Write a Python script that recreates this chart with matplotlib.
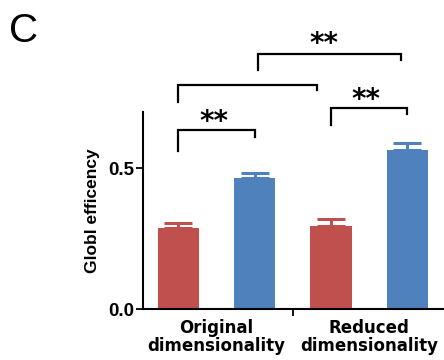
import matplotlib
matplotlib.use("Agg")
import matplotlib.pyplot as plt

plt.rcParams['font.family'] = ['Liberation Sans', 'DejaVu Sans']

groups = ["Original\ndimensionality", "Reduced\ndimensionality"]
conditions = ["red", "blue"]
values = [0.287, 0.465, 0.294, 0.564]
errors = [0.018, 0.017, 0.025, 0.025]
bar_colors = ["#C0504D", "#4F81BD", "#C0504D", "#4F81BD"]
yticks = [0.0, 0.5]
ytick_labels = ["0.0", "0.5"]
ylabel = "Globl efficency"
panel_label = "C"
# significance brackets: (x_left, x_right, y_top, y_left_leg, y_right_leg, label)
brackets = [
    (0.0, 1.0, 0.636, 0.561, 0.611, "**"),
    (0.0, 1.82, 0.796, 0.735, 0.778, ""),
    (2.0, 3.0, 0.714, 0.654, 0.693, "**"),
    (1.05, 2.92, 0.906, 0.849, 0.885, "**"),
]
star_pos = [(0.465, 0.663), None, (2.46, 0.741), (1.907, 0.942)]

fig = plt.figure(figsize=(4.44, 3.6), dpi=100)
ax = fig.add_axes([143/444, 1-309/360, 1-143/444, (309-112)/360])

x = list(range(len(values)))
ax.bar(x, values, width=0.54, color=bar_colors, zorder=2)
for xi, v, e, c in zip(x, values, errors, bar_colors):
    ax.errorbar(xi, v, yerr=[[0], [e]], color=c, capsize=10, capthick=2.2,
                elinewidth=2.2, fmt='none', zorder=1)

ax.set_xlim(-0.46, 3.48)
ax.set_ylim(0, 0.7)
ax.set_yticks(yticks)
ax.set_yticklabels(ytick_labels, fontsize=13.5, fontweight='bold')
ax.set_xticks([1.5])
ax.set_xticklabels([""])
ax.tick_params(axis='both', length=5, width=1.3, direction='out', pad=1)
for s in ['top', 'right']:
    ax.spines[s].set_visible(False)
for s in ['left', 'bottom']:
    ax.spines[s].set_linewidth(1.5)

for gi, g in enumerate(groups):
    ax.text(gi * 2 + 0.5, -0.034, g, ha='center', va='top', fontsize=12,
            fontweight='bold', family='DejaVu Sans', linespacing=1.05)

ax.set_ylabel(ylabel, fontsize=12.5, fontweight='bold', labelpad=6)

for (xl, xr, yt, yl, yr, lab), sp in zip(brackets, star_pos):
    ax.plot([xl, xl, xr, xr], [yl, yt, yt, yr], color='black', lw=1.6,
            clip_on=False, solid_joinstyle='miter')
    if lab and sp:
        ax.text(sp[0], sp[1], lab, ha='center', va='center', fontsize=20,
                fontweight='bold', family='DejaVu Sans', clip_on=False)

fig.text(9/444, 1-31/360, panel_label, fontsize=29, ha='left', va='center')

fig.savefig("out.png", dpi=100)
